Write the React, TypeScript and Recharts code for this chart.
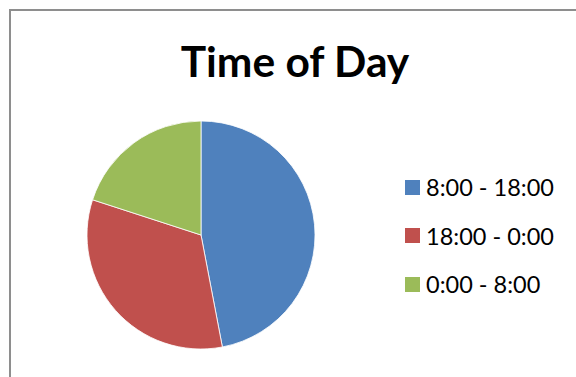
import { PieChart, Pie, Cell, Legend } from "recharts";

const periods = ["8:00 - 18:00", "18:00 - 0:00", "0:00 - 8:00"];
const shares = [47, 33, 20];
const colors = ["#4f81bd", "#c0504d", "#9bbb59"];

const data = periods.map((name, i) => ({ name, value: shares[i] }));

const FONT = "Lato, 'Open Sans', sans-serif";

function LegendList({ payload }: any) {
  const items = [...(payload || [])].sort(
    (a: any, b: any) => periods.indexOf(a.value) - periods.indexOf(b.value)
  );
  return (
    <div style={{ fontFamily: FONT, fontSize: 23.5, color: "#000" }}>
      {items.map((p: any) => (
        <div
          key={p.value}
          style={{ display: "flex", alignItems: "center", height: 48.5 }}
        >
          <span
            style={{
              display: "inline-block",
              width: 15,
              height: 15,
              background: p.color,
              marginRight: 6,
            }}
          />
          <span>{p.value}</span>
        </div>
      ))}
    </div>
  );
}

export default function App() {
  return (
    <>
      <style>{"body{margin:0;overflow:hidden}"}</style>
      <div
        style={{
          position: "relative",
          width: 576,
          height: 377,
          overflow: "hidden",
          background: "#fff",
        }}
      >
        <div
          style={{
            position: "absolute",
            left: 9,
            top: 9,
            width: 700,
            height: 500,
            border: "2px solid #8e8e8e",
            boxSizing: "border-box",
          }}
        />
        <div
          style={{
            position: "absolute",
            left: 0,
            width: 590,
            top: 33,
            textAlign: "center",
            fontFamily: FONT,
            fontWeight: 700,
            fontSize: 42.5,
            lineHeight: "56px",
            color: "#000",
          }}
        >
          Time of Day
        </div>
        <PieChart
          width={576}
          height={377}
          margin={{ top: 0, right: 0, bottom: 0, left: 0 }}
          style={{ position: "absolute", left: 0, top: 0 }}
        >
          <Pie
            data={data}
            dataKey="value"
            nameKey="name"
            cx={201}
            cy={235}
            outerRadius={114}
            startAngle={90}
            endAngle={-270}
            stroke="#ffffff"
            strokeWidth={0.8}
            isAnimationActive={false}
          >
            {data.map((d, i) => (
              <Cell key={d.name} fill={colors[i]} />
            ))}
          </Pie>
          <Legend
            layout="vertical"
            content={<LegendList />}
            wrapperStyle={{ left: 405, top: 163, width: 170 }}
          />
        </PieChart>
      </div>
    </>
  );
}
